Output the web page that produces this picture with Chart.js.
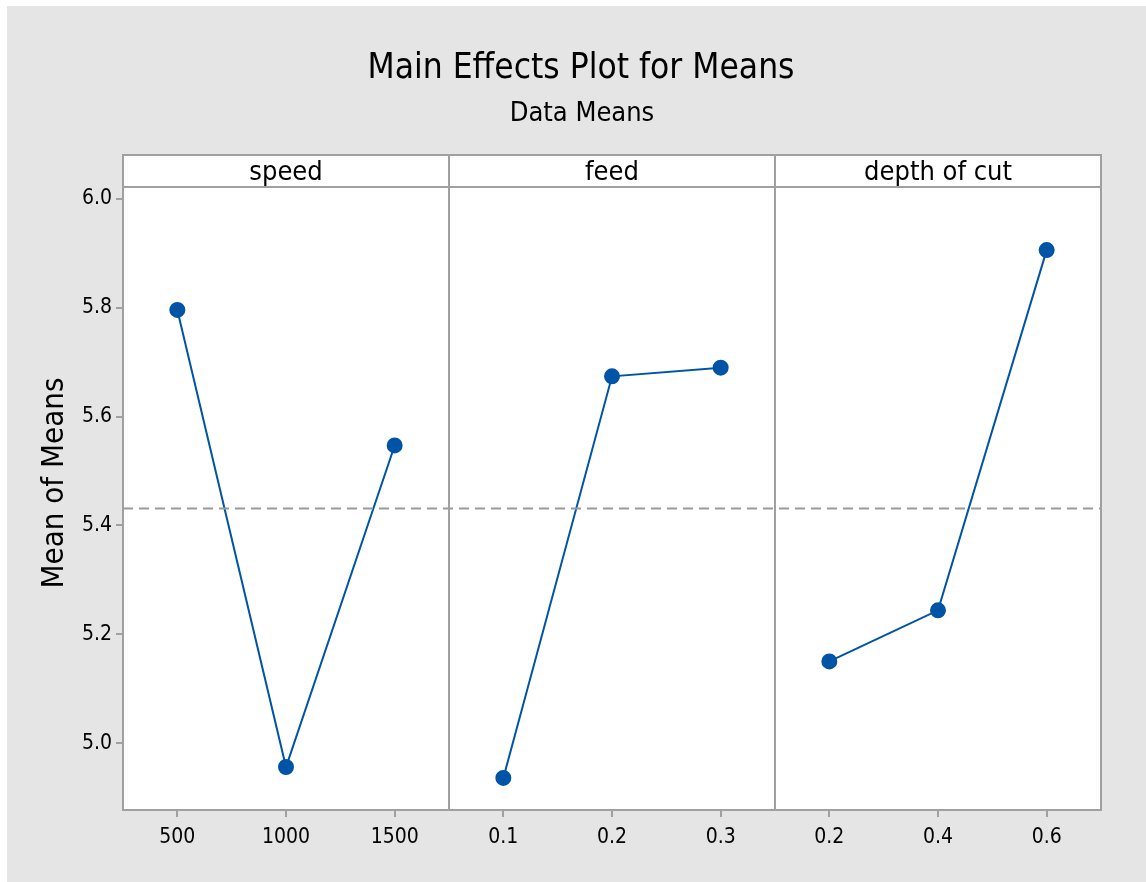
<!DOCTYPE html>
<html>
<head>
<meta charset="utf-8">
<script src="https://cdn.jsdelivr.net/npm/chart.js@4.4.0/dist/chart.umd.min.js"></script>
<style>
  body { margin: 0; background: #ffffff; }
  #wrap { position: absolute; left: 7px; top: 6px; width: 1139px; height: 876px; background: #e5e5e5; }
</style>
</head>
<body>
<div id="wrap"><canvas id="effectsChart" width="1139" height="876"></canvas></div>
<script>
// Datos
const factors = ['speed', 'feed', 'depth of cut'];
const speedLevels = ['500', '1000', '1500'];
const feedLevels = ['0.1', '0.2', '0.3'];
const depthLevels = ['0.2', '0.4', '0.6'];
const speedMeans = [5.796, 4.956, 5.547];
const feedMeans = [4.936, 5.674, 5.690];
const depthMeans = [5.150, 5.244, 5.906];
const grandMean = 5.431;
const yTicks = [5.0, 5.2, 5.4, 5.6, 5.8, 6.0];

const FONT = '"Liberation Sans Narrow", "DejaVu Sans Condensed", "Liberation Sans", sans-serif';
const levelLabels = speedLevels.concat(feedLevels, depthLevels);
const blue = '#0054a6';
const frameColor = '#a0a0a0';

// Cada factor ocupa 3 unidades en el eje x
function panelData(values, panel) {
    return values.map((v, i) => ({ x: panel * 3 + i + 0.5, y: v }));
}

function serie(values, panel) {
    return {
        data: panelData(values, panel),
        borderColor: blue,
        backgroundColor: blue,
        borderWidth: 2,
        pointRadius: 7,
        pointHoverRadius: 7,
        tension: 0,
        fill: false
    };
}

// Plugin para títulos, cabeceras y marco
const decor = {
    id: 'decor',
    beforeDatasetsDraw(chart) {
        const a = chart.chartArea;
        chart.ctx.save();
        chart.ctx.fillStyle = '#ffffff';
        chart.ctx.fillRect(a.left, a.top, a.right - a.left, a.bottom - a.top);
        chart.ctx.restore();
    },
    afterDraw(chart) {
        const ctx = chart.ctx;
        const a = chart.chartArea;
        const xs = chart.scales.x;
        const headTop = a.top - 32;
        ctx.save();
        // cabecera
        ctx.fillStyle = '#ffffff';
        ctx.fillRect(a.left, headTop, a.right - a.left, a.top - headTop);
        ctx.strokeStyle = frameColor;
        ctx.lineWidth = 2;
        ctx.strokeRect(a.left, headTop, a.right - a.left, a.bottom - headTop);
        ctx.beginPath();
        ctx.moveTo(a.left, a.top);
        ctx.lineTo(a.right, a.top);
        for (let p = 1; p < factors.length; p++) {
            const px = Math.round(xs.getPixelForValue(p * 3));
            ctx.moveTo(px, headTop);
            ctx.lineTo(px, a.bottom);
        }
        ctx.stroke();
        ctx.fillStyle = '#000000';
        ctx.textAlign = 'center';
        ctx.textBaseline = 'alphabetic';
        ctx.font = '27px ' + FONT;
        factors.forEach((f, p) => {
            const cx = xs.getPixelForValue(p * 3 + 1.5);
            ctx.fillText(f, cx, a.top - 7);
        });
        // títulos
        ctx.font = '35px ' + FONT;
        ctx.fillText('Main Effects Plot for Means', 574, 72);
        ctx.font = '27px ' + FONT;
        ctx.fillText('Data Means', 575, 115);
        // título del eje y
        ctx.translate(56, 477);
        ctx.rotate(-Math.PI / 2);
        ctx.font = '31px ' + FONT;
        ctx.fillText('Mean of Means', 0, 0);
        ctx.restore();
    }
};

const ctx = document.getElementById('effectsChart').getContext('2d');
new Chart(ctx, {
    type: 'line',
    data: {
        datasets: [
            {
                data: [{ x: 0, y: grandMean }, { x: 9, y: grandMean }],
                borderColor: '#999999',
                borderWidth: 2,
                borderDash: [10, 6],
                pointRadius: 0,
                fill: false
            },
            serie(speedMeans, 0),
            serie(feedMeans, 1),
            serie(depthMeans, 2)
        ]
    },
    options: {
        responsive: false,
        animation: false,
        layout: { padding: { left: 0, right: 45, top: 181, bottom: 0 } },
        plugins: {
            legend: { display: false },
            tooltip: { enabled: false },
            title: { display: false }
        },
        scales: {
            x: {
                type: 'linear',
                min: 0,
                max: 9,
                afterBuildTicks: s => { s.ticks = levelLabels.map((l, i) => ({ value: i + 0.5 })); },
                afterFit: s => { s.height = 72; },
                ticks: {
                    autoSkip: false,
                    maxRotation: 0,
                    padding: 8,
                    color: '#000000',
                    font: { family: FONT, size: 21 },
                    callback: (v, i) => levelLabels[i]
                },
                grid: { drawOnChartArea: false, color: frameColor, lineWidth: 2, tickLength: 7 },
                border: { display: false }
            },
            y: {
                min: 4.877,
                max: 6.022,
                afterBuildTicks: s => { s.ticks = yTicks.map(v => ({ value: v })); },
                afterFit: s => { s.width = 116; },
                ticks: {
                    padding: 4,
                    color: '#000000',
                    font: { family: FONT, size: 21 },
                    callback: v => v.toFixed(1)
                },
                grid: { drawOnChartArea: false, color: frameColor, lineWidth: 2, tickLength: 7 },
                border: { display: false }
            }
        }
    },
    plugins: [decor]
});
</script>
</body>
</html>
